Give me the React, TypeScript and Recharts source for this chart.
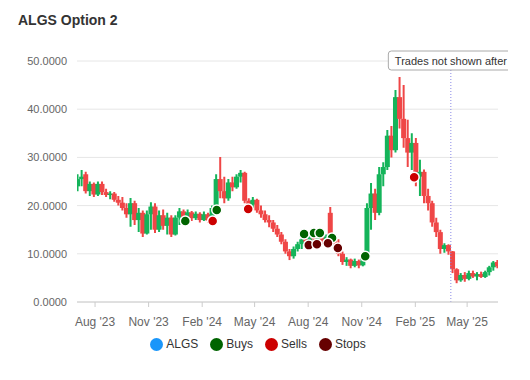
import React from "react";
import {
  ComposedChart,
  Bar,
  Scatter,
  XAxis,
  YAxis,
  CartesianGrid,
  ReferenceLine,
} from "recharts";

// Weekly candles, starting 2 Jul 2023
const START = Date.UTC(2023, 6, 2);
const WEEK = 7 * 86400000;

const opens = [
  24.0, 25.5, 26.5, 23.0, 24.5, 22.3, 24.5, 22.8, 22.2, 22.5,
  21.2, 20.6, 19.5, 18.2, 20.5, 17.0, 18.5, 14.2, 18.2, 19.8,
  15.0, 18.0, 15.8, 17.5, 14.0, 17.5, 18.8, 17.6, 18.6, 17.4,
  18.3, 17.0, 18.2, 16.9, 19.5, 25.5, 23.0, 21.5, 24.8, 23.8,
  26.0, 26.8, 21.0, 20.2, 21.2, 19.0, 18.2, 17.0, 16.5, 15.2,
  14.0, 12.5, 10.5, 9.5, 11.0, 12.0, 13.0, 12.5, 14.0, 13.0,
  14.2, 12.6, 18.5, 13.2, 12.0, 10.0, 8.3, 8.8, 7.5, 8.5,
  7.6, 9.5, 19.5, 22.5, 18.5, 26.5, 28.0, 34.5, 31.5, 42.5,
  38.0, 34.0, 31.0, 33.0, 26.0, 27.0, 22.0, 20.5, 16.5, 14.5,
  11.0, 11.8, 10.5, 6.8, 4.5, 5.6, 4.8, 6.0, 5.3, 5.8,
  5.2, 6.2, 7.2, 8.3,
];
const highs = [
  26.5, 27.4, 27.0, 25.0, 24.8, 25.0, 25.0, 23.5, 23.0, 22.8,
  22.0, 21.8, 20.5, 21.6, 21.0, 19.5, 19.0, 19.0, 20.7, 20.5,
  19.0, 19.2, 18.5, 18.0, 18.0, 19.5, 19.2, 19.2, 18.9, 18.8,
  18.6, 18.8, 18.5, 20.0, 26.5, 30.1, 26.0, 25.5, 26.0, 26.5,
  27.4, 27.0, 21.5, 21.8, 21.4, 20.0, 19.0, 18.0, 17.0, 16.0,
  14.5, 13.0, 11.0, 11.5, 12.5, 13.5, 14.0, 14.3, 14.8, 14.5,
  14.5, 14.0, 19.7, 14.0, 13.0, 10.5, 9.3, 9.0, 9.0, 8.8,
  9.8, 20.5, 24.7, 23.5, 28.0, 29.0, 35.7, 36.5, 44.0, 46.7,
  45.0, 37.8, 35.0, 34.0, 29.5, 27.5, 23.5, 21.0, 17.5, 15.0,
  12.2, 12.0, 10.6, 7.0, 6.0, 6.2, 6.5, 6.5, 6.2, 6.3,
  6.5, 7.5, 8.5, 8.7,
];
const lows = [
  23.0, 24.0, 22.5, 22.0, 21.8, 22.0, 22.2, 21.8, 21.3, 20.8,
  20.0, 19.0, 17.5, 15.6, 16.0, 14.5, 13.5, 14.0, 15.0, 14.3,
  14.5, 15.0, 14.0, 13.5, 13.8, 16.0, 17.0, 17.3, 16.8, 17.0,
  16.5, 16.8, 16.4, 16.5, 18.5, 21.5, 20.5, 21.0, 23.0, 23.5,
  24.8, 20.5, 19.0, 19.5, 18.5, 17.5, 16.5, 15.5, 14.5, 13.5,
  12.0, 10.0, 8.7, 9.0, 10.5, 11.0, 12.0, 12.2, 12.5, 12.0,
  12.0, 12.3, 12.5, 11.0, 9.5, 7.7, 7.5, 7.0, 7.2, 7.0,
  7.4, 9.3, 15.0, 17.0, 18.0, 24.0, 27.4, 30.0, 31.0, 36.0,
  32.0, 28.0, 27.4, 24.0, 22.0, 20.5, 19.0, 15.6, 13.5, 10.0,
  10.2, 9.8, 6.0, 3.9, 4.2, 4.2, 4.5, 5.0, 4.5, 5.0,
  5.0, 5.5, 6.5, 7.0,
];
const closes = [
  25.5, 26.0, 23.0, 24.5, 22.3, 24.5, 22.8, 22.2, 22.5, 21.2,
  20.6, 19.5, 18.2, 20.5, 17.0, 18.5, 14.2, 18.2, 19.8, 15.0,
  18.0, 15.8, 17.5, 14.0, 17.5, 18.8, 17.6, 18.6, 17.4, 18.3,
  17.0, 18.2, 16.9, 19.5, 25.5, 23.0, 21.5, 24.8, 23.8, 26.0,
  26.8, 21.0, 20.2, 21.2, 19.0, 18.2, 17.0, 16.5, 15.2, 14.0,
  12.5, 10.5, 9.5, 11.0, 12.0, 13.0, 12.5, 14.0, 13.0, 14.2,
  12.6, 13.6, 13.2, 12.0, 10.0, 8.3, 8.8, 7.5, 8.5, 7.6,
  9.5, 19.5, 22.5, 18.5, 26.5, 28.0, 34.5, 31.5, 42.5, 38.0,
  34.0, 31.0, 33.0, 26.0, 27.0, 22.0, 20.5, 16.5, 14.5, 11.0,
  11.8, 10.5, 6.8, 4.5, 5.6, 4.8, 6.0, 5.3, 5.8, 5.2,
  6.2, 7.2, 8.2, 7.4,
];

const buyDates = ["2024-01-03", "2024-02-26", "2024-07-25", "2024-08-11", "2024-08-21", "2024-09-11", "2024-11-07"];
const buyPrices = [16.8, 19.1, 14.1, 14.3, 14.3, 13.3, 9.5];
const sellDates = ["2024-02-19", "2024-04-20", "2025-01-30"];
const sellPrices = [16.8, 19.3, 25.9];
const stopDates = ["2024-08-02", "2024-08-16", "2024-09-04", "2024-09-21"];
const stopPrices = [11.8, 12.0, 12.2, 11.2];

const xTickDates = ["2023-08-01", "2023-11-01", "2024-02-01", "2024-05-01", "2024-08-01", "2024-11-01", "2025-02-01", "2025-05-01"];
const yTicks = [0, 10, 20, 30, 40, 50];
const cutoffDate = "2025-04-03";
const MONTHS = ["Jan", "Feb", "Mar", "Apr", "May", "Jun", "Jul", "Aug", "Sep", "Oct", "Nov", "Dec"];

const ts = (s: string) => Date.parse(s + "T00:00:00Z");

const candles = opens.map((o, i) => ({
  t: START + i * WEEK,
  open: o,
  high: highs[i],
  low: lows[i],
  close: closes[i],
}));
const buys = buyDates.map((d, i) => ({ t: ts(d), p: buyPrices[i] }));
const sells = sellDates.map((d, i) => ({ t: ts(d), p: sellPrices[i] }));
const stops = stopDates.map((d, i) => ({ t: ts(d), p: stopPrices[i] }));

const UP = "#14b45a";
const DOWN = "#ef4646";
const C_ALGS = "#1a96fa";
const C_BUY = "#006400";
const C_SELL = "#cc0000";
const C_STOP = "#660000";

const BODY_W = 5;

const Candle = (props: any) => {
  const { x, y, width, height, payload } = props;
  if (!payload) return null;
  const { open, high, low, close } = payload;
  const y0 = height < 0 ? y + height : y;
  const h = Math.abs(height);
  const ratio = h / (high - low);
  const color = close >= open ? UP : DOWN;
  const top = y0 + (high - Math.max(open, close)) * ratio;
  const bot = y0 + (high - Math.min(open, close)) * ratio;
  const cx = x + width / 2;
  return (
    <g>
      <line x1={cx} x2={cx} y1={y0} y2={y0 + h} stroke={color} strokeWidth={2} />
      <rect x={cx - BODY_W / 2} y={top} width={BODY_W} height={Math.max(1.5, bot - top)} fill={color} />
    </g>
  );
};

const marker = (color: string) => (props: any) => (
  <circle cx={props.cx} cy={props.cy} r={5} fill={color} stroke="#ffffff" strokeWidth={1.5} />
);

const AnnotationLabel = (props: any) => {
  const vb = props.viewBox || {};
  const x = vb.x ?? 0;
  const y = vb.y ?? 0;
  return (
    <g>
      <rect x={x - 62.5} y={y - 10} width={150} height={19} rx={3} ry={3} fill="#ffffff" stroke="#aaaaaa" strokeWidth={1} />
      <text x={x - 56} y={y + 4} fontSize={11} fill="#333333">
        Trades not shown after
      </text>
    </g>
  );
};

const fmtDate = (v: number) => {
  const d = new Date(v);
  return `${MONTHS[d.getUTCMonth()]} '${String(d.getUTCFullYear()).slice(2)}`;
};

const legendItems = [
  { name: "ALGS", color: C_ALGS },
  { name: "Buys", color: C_BUY },
  { name: "Sells", color: C_SELL },
  { name: "Stops", color: C_STOP },
];

export default function App() {
  return (
    <div style={{ position: "relative", width: 500, height: 360, fontFamily: "'Liberation Sans', Arial, sans-serif" }}>
      <div style={{ position: "absolute", left: 10, top: 3, fontSize: 14, fontWeight: "bold", color: "#333333", lineHeight: "18px" }}>
        ALGS Option 2
      </div>
      <ComposedChart
        width={500}
        height={330}
        data={candles}
        margin={{ top: 53, right: 10, bottom: 6, left: 0 }}
      >
        <CartesianGrid vertical={false} stroke="#e6e6e6" />
        <XAxis
          dataKey="t"
          type="number"
          scale="time"
          domain={[ts("2023-07-01"), ts("2025-06-23")]}
          ticks={xTickDates.map(ts)}
          tickFormatter={fmtDate}
          allowDataOverflow
          height={30}
          stroke="#cccccc"
          tickSize={5}
          tickMargin={10}
          tick={{ fill: "#666666", fontSize: 12 }}
        />
        <YAxis
          domain={[0, 50]}
          ticks={yTicks}
          tickFormatter={(v: number) => v.toFixed(4)}
          width={69}
          axisLine={false}
          tickLine={false}
          tickSize={0}
          tickMargin={10}
          tick={{ fill: "#666666", fontSize: 11 }}
        />
        <Bar
          dataKey={(d: any) => [d.low, d.high]}
          name="ALGS"
          barSize={4}
          shape={<Candle />}
          isAnimationActive={false}
        />
        <ReferenceLine
          x={ts(cutoffDate)}
          stroke="#8a8ae6"
          strokeDasharray="1 2"
          strokeWidth={1}
          label={(p: any) => <AnnotationLabel {...p} />}
        />
        <Scatter data={buys} dataKey="p" name="Buys" shape={marker(C_BUY)} isAnimationActive={false} />
        <Scatter data={sells} dataKey="p" name="Sells" shape={marker(C_SELL)} isAnimationActive={false} />
        <Scatter data={stops} dataKey="p" name="Stops" shape={marker(C_STOP)} isAnimationActive={false} />
      </ComposedChart>
      <div
        style={{
          position: "absolute",
          top: 329,
          left: 0,
          width: 500,
          display: "flex",
          justifyContent: "center",
          fontSize: 12,
          color: "#333333",
        }}
      >
        {legendItems.map((it) => (
          <div key={it.name} style={{ display: "flex", alignItems: "center", margin: "0 6px" }}>
            <span style={{ display: "inline-block", width: 13, height: 13, borderRadius: "50%", background: it.color, marginRight: 3 }} />
            <span>{it.name}</span>
          </div>
        ))}
      </div>
    </div>
  );
}
